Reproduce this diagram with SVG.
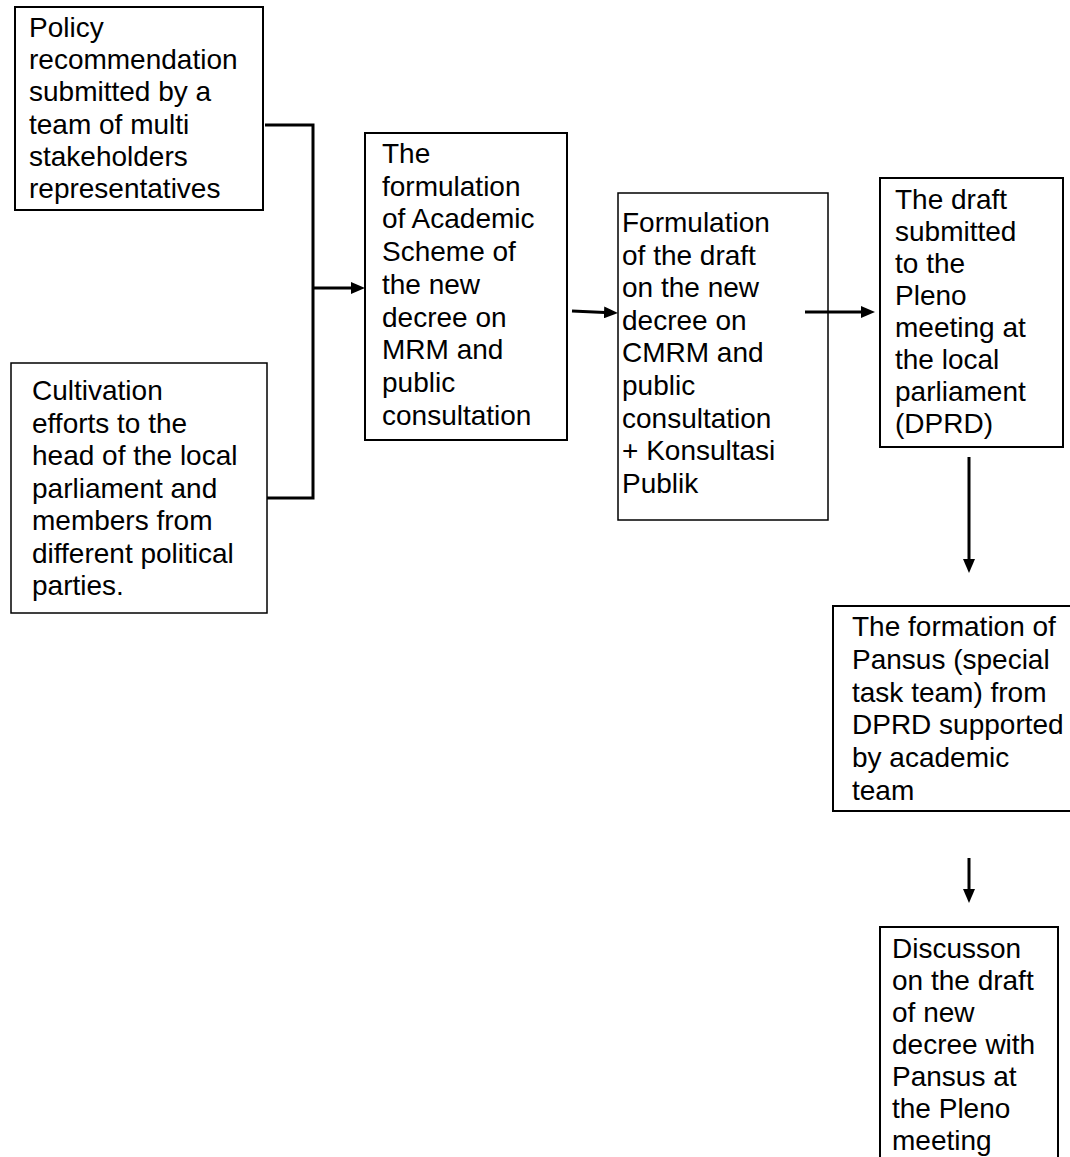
<svg xmlns="http://www.w3.org/2000/svg" width="1070" height="1157" viewBox="0 0 1070 1157">
<style>
  .box { fill: #fff; stroke: #000; stroke-width: 2; }
  .thin { stroke-width: 1.5; }
  text { font-family: "Liberation Sans", Arial, sans-serif; font-size: 28px; fill: #000; }
  .conn { fill: none; stroke: #000; stroke-width: 3; }
</style>
<defs>
  <marker id="arrow" viewBox="0 0 14 12" markerWidth="14" markerHeight="12" refX="1" refY="6" orient="auto" markerUnits="userSpaceOnUse">
    <path d="M0,0 L14,6 L0,12 z" fill="#000"/>
  </marker>
</defs>
<rect width="1070" height="1157" fill="#fff"/>

<g id="node1">
  <rect class="box" x="15" y="7" width="248" height="203"/>
  <text x="29" y="37">Policy</text>
  <text x="29" y="69.2">recommendation</text>
  <text x="29" y="101.4">submitted by a</text>
  <text x="29" y="133.6">team of multi</text>
  <text x="29" y="165.8">stakeholders</text>
  <text x="29" y="198">representatives</text>
</g>

<g id="node2">
  <rect class="box thin" x="11" y="363" width="256" height="250"/>
  <text x="32" y="400">Cultivation</text>
  <text x="32" y="432.5">efforts to the</text>
  <text x="32" y="465">head of the local</text>
  <text x="32" y="497.5">parliament and</text>
  <text x="32" y="530">members from</text>
  <text x="32" y="562.5">different political</text>
  <text x="32" y="595">parties.</text>
</g>

<g id="node3">
  <rect class="box" x="365" y="133" width="202" height="307"/>
  <text x="382" y="163">The</text>
  <text x="382" y="195.7">formulation</text>
  <text x="382" y="228.4">of Academic</text>
  <text x="382" y="261.1">Scheme of</text>
  <text x="382" y="293.8">the new</text>
  <text x="382" y="326.5">decree on</text>
  <text x="382" y="359.2">MRM and</text>
  <text x="382" y="391.9">public</text>
  <text x="382" y="424.6">consultation</text>
</g>

<g id="node4">
  <rect class="box thin" x="618" y="193" width="210" height="327"/>
  <text x="622" y="232">Formulation</text>
  <text x="622" y="264.6">of the draft</text>
  <text x="622" y="297.2">on the new</text>
  <text x="622" y="329.8">decree on</text>
  <text x="622" y="362.4">CMRM and</text>
  <text x="622" y="395">public</text>
  <text x="622" y="427.6">consultation</text>
  <text x="622" y="460.2">+ Konsultasi</text>
  <text x="622" y="492.8">Publik</text>
</g>

<g id="node5">
  <rect class="box" x="880" y="178" width="183" height="269"/>
  <text x="895" y="209">The draft</text>
  <text x="895" y="241">submitted</text>
  <text x="895" y="273">to the</text>
  <text x="895" y="305">Pleno</text>
  <text x="895" y="337">meeting at</text>
  <text x="895" y="369">the local</text>
  <text x="895" y="401">parliament</text>
  <text x="895" y="433">(DPRD)</text>
</g>

<g id="node6">
  <rect class="box" x="833" y="606" width="250" height="205"/>
  <text x="852" y="636">The formation of</text>
  <text x="852" y="668.8">Pansus (special</text>
  <text x="852" y="701.6">task team) from</text>
  <text x="852" y="734.4">DPRD supported</text>
  <text x="852" y="767.2">by academic</text>
  <text x="852" y="800">team</text>
</g>

<g id="node7">
  <rect class="box" x="880" y="927" width="178" height="250"/>
  <text x="892" y="958">Discusson</text>
  <text x="892" y="990">on the draft</text>
  <text x="892" y="1022">of new</text>
  <text x="892" y="1054">decree with</text>
  <text x="892" y="1086">Pansus at</text>
  <text x="892" y="1118">the Pleno</text>
  <text x="892" y="1150">meeting</text>
</g>

<g id="connectors">
  <path class="conn" d="M265,125 H313 V498 H267"/>
  <path class="conn" d="M313,288 H352" marker-end="url(#arrow)"/>
  <path class="conn" d="M572,311 L605,312.5" marker-end="url(#arrow)"/>
  <path class="conn" d="M805,312 H862" marker-end="url(#arrow)"/>
  <path class="conn" d="M969,457 V560" marker-end="url(#arrow)"/>
  <path class="conn" d="M969,858 V890" marker-end="url(#arrow)"/>
</g>
</svg>
